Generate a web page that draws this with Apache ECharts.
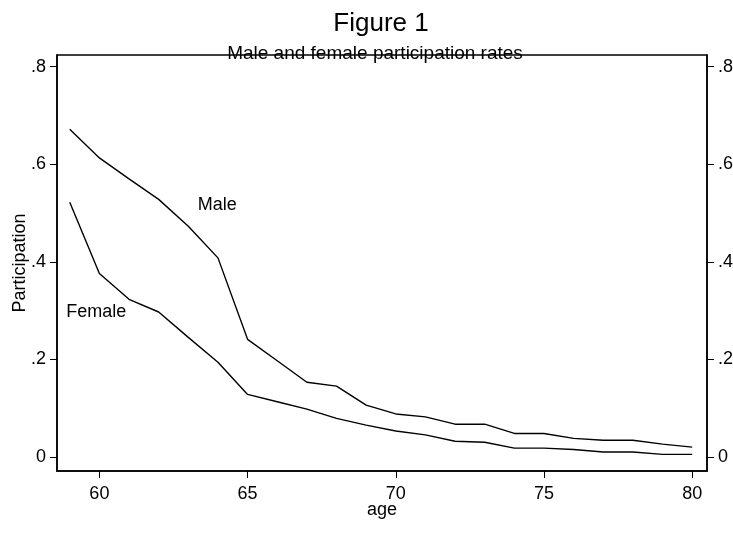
<!DOCTYPE html>
<html>
<head>
<meta charset="utf-8">
<script src="https://cdn.jsdelivr.net/npm/echarts@6/dist/echarts.min.js"></script>
<style>html,body{margin:0;padding:0;background:#fff}#c{width:733px;height:534px}</style>
</head>
<body>
<div id="c"></div>
<script>
const ages = [59,60,61,62,63,64,65,66,67,68,69,70,71,72,73,74,75,76,77,78,79,80];
const male = [0.672,0.613,0.570,0.528,0.473,0.408,0.241,0.197,0.153,0.145,0.106,0.088,0.082,0.067,0.067,0.048,0.048,0.038,0.034,0.034,0.026,0.020];
const female = [0.522,0.376,0.323,0.297,0.245,0.194,0.128,0.113,0.098,0.079,0.065,0.053,0.045,0.032,0.030,0.018,0.018,0.015,0.010,0.010,0.005,0.005];
const xTicks = [60,65,70,75,80];
const yTicks = [0,0.2,0.4,0.6,0.8];
const maleLabel = {text:'Male', age:63.32, value:0.516};
const femaleLabel = {text:'Female', age:58.88, value:0.297};

const font = 'Liberation Sans, Arial, sans-serif';
const fmtY = v => v === 0 ? '0' : String(Math.round(v*10)/10).replace(/^0/, '');
const pair = arr => ages.map((a,i)=>[a,arr[i]]);

function yAx(pos){
  return {
    type:'value', position:pos, min:-0.029, max:0.824,
    axisLine:{show:true, onZero:false, lineStyle:{color:'#000', width:1.5}},
    axisTick:{show:true, length:7, lineStyle:{color:'#000', width:1}, customValues:yTicks},
    axisLabel:{color:'#000', fontSize:18, fontFamily:font, margin:11, formatter:fmtY, customValues:yTicks},
    splitLine:{show:false},
    name: pos==='left' ? 'Participation' : '',
    nameLocation:'middle', nameGap:28, nameRotate:90, nameMoveOverlap:false,
    nameTextStyle:{color:'#000', fontSize:18, fontFamily:font}
  };
}

const chart = echarts.init(document.getElementById('c'), null, {renderer:'canvas'});
chart.setOption({
  animation:false,
  backgroundColor:'#fff',
  title:[
    {text:'Figure 1', left:376, textAlign:'center', top:6, textStyle:{color:'#000', fontSize:26, fontWeight:'normal', fontFamily:font}},
    {text:'Male and female participation rates', left:370, textAlign:'center', top:39, z:10, textStyle:{color:'#000', fontSize:19, fontWeight:'normal', fontFamily:font}}
  ],
  grid:{left:57, right:26, top:55, bottom:63, containLabel:false, outerBoundsMode:'none', show:true, borderColor:'#000', borderWidth:1.5, backgroundColor:'transparent'},
  xAxis:{
    type:'value', min:58.57, max:80.5,
    axisLine:{show:true, onZero:false, lineStyle:{color:'#000', width:1.5}},
    axisTick:{show:true, length:7, lineStyle:{color:'#000', width:1}, customValues:xTicks},
    axisLabel:{color:'#000', fontSize:18, fontFamily:font, margin:14, customValues:xTicks},
    splitLine:{show:false},
    name:'age', nameLocation:'middle', nameGap:30, nameMoveOverlap:false,
    nameTextStyle:{color:'#000', fontSize:18, fontFamily:font}
  },
  yAxis:[yAx('left'), yAx('right')],
  series:[
    {type:'line', name:'Male', data:pair(male), showSymbol:false, symbol:'none',
     lineStyle:{color:'#000', width:1.4}, itemStyle:{color:'#000'},
     markPoint:{symbol:'circle', symbolSize:0, silent:true,
       label:{show:true, position:'right', distance:0, color:'#000', fontSize:18, fontFamily:font, formatter:maleLabel.text},
       data:[{coord:[maleLabel.age, maleLabel.value], value:maleLabel.text}]}},
    {type:'line', name:'Female', data:pair(female), showSymbol:false, symbol:'none',
     lineStyle:{color:'#000', width:1.4}, itemStyle:{color:'#000'},
     markPoint:{symbol:'circle', symbolSize:0, silent:true,
       label:{show:true, position:'right', distance:0, color:'#000', fontSize:18, fontFamily:font, formatter:femaleLabel.text},
       data:[{coord:[femaleLabel.age, femaleLabel.value], value:femaleLabel.text}]}}
  ]
});
</script>
</body>
</html>
